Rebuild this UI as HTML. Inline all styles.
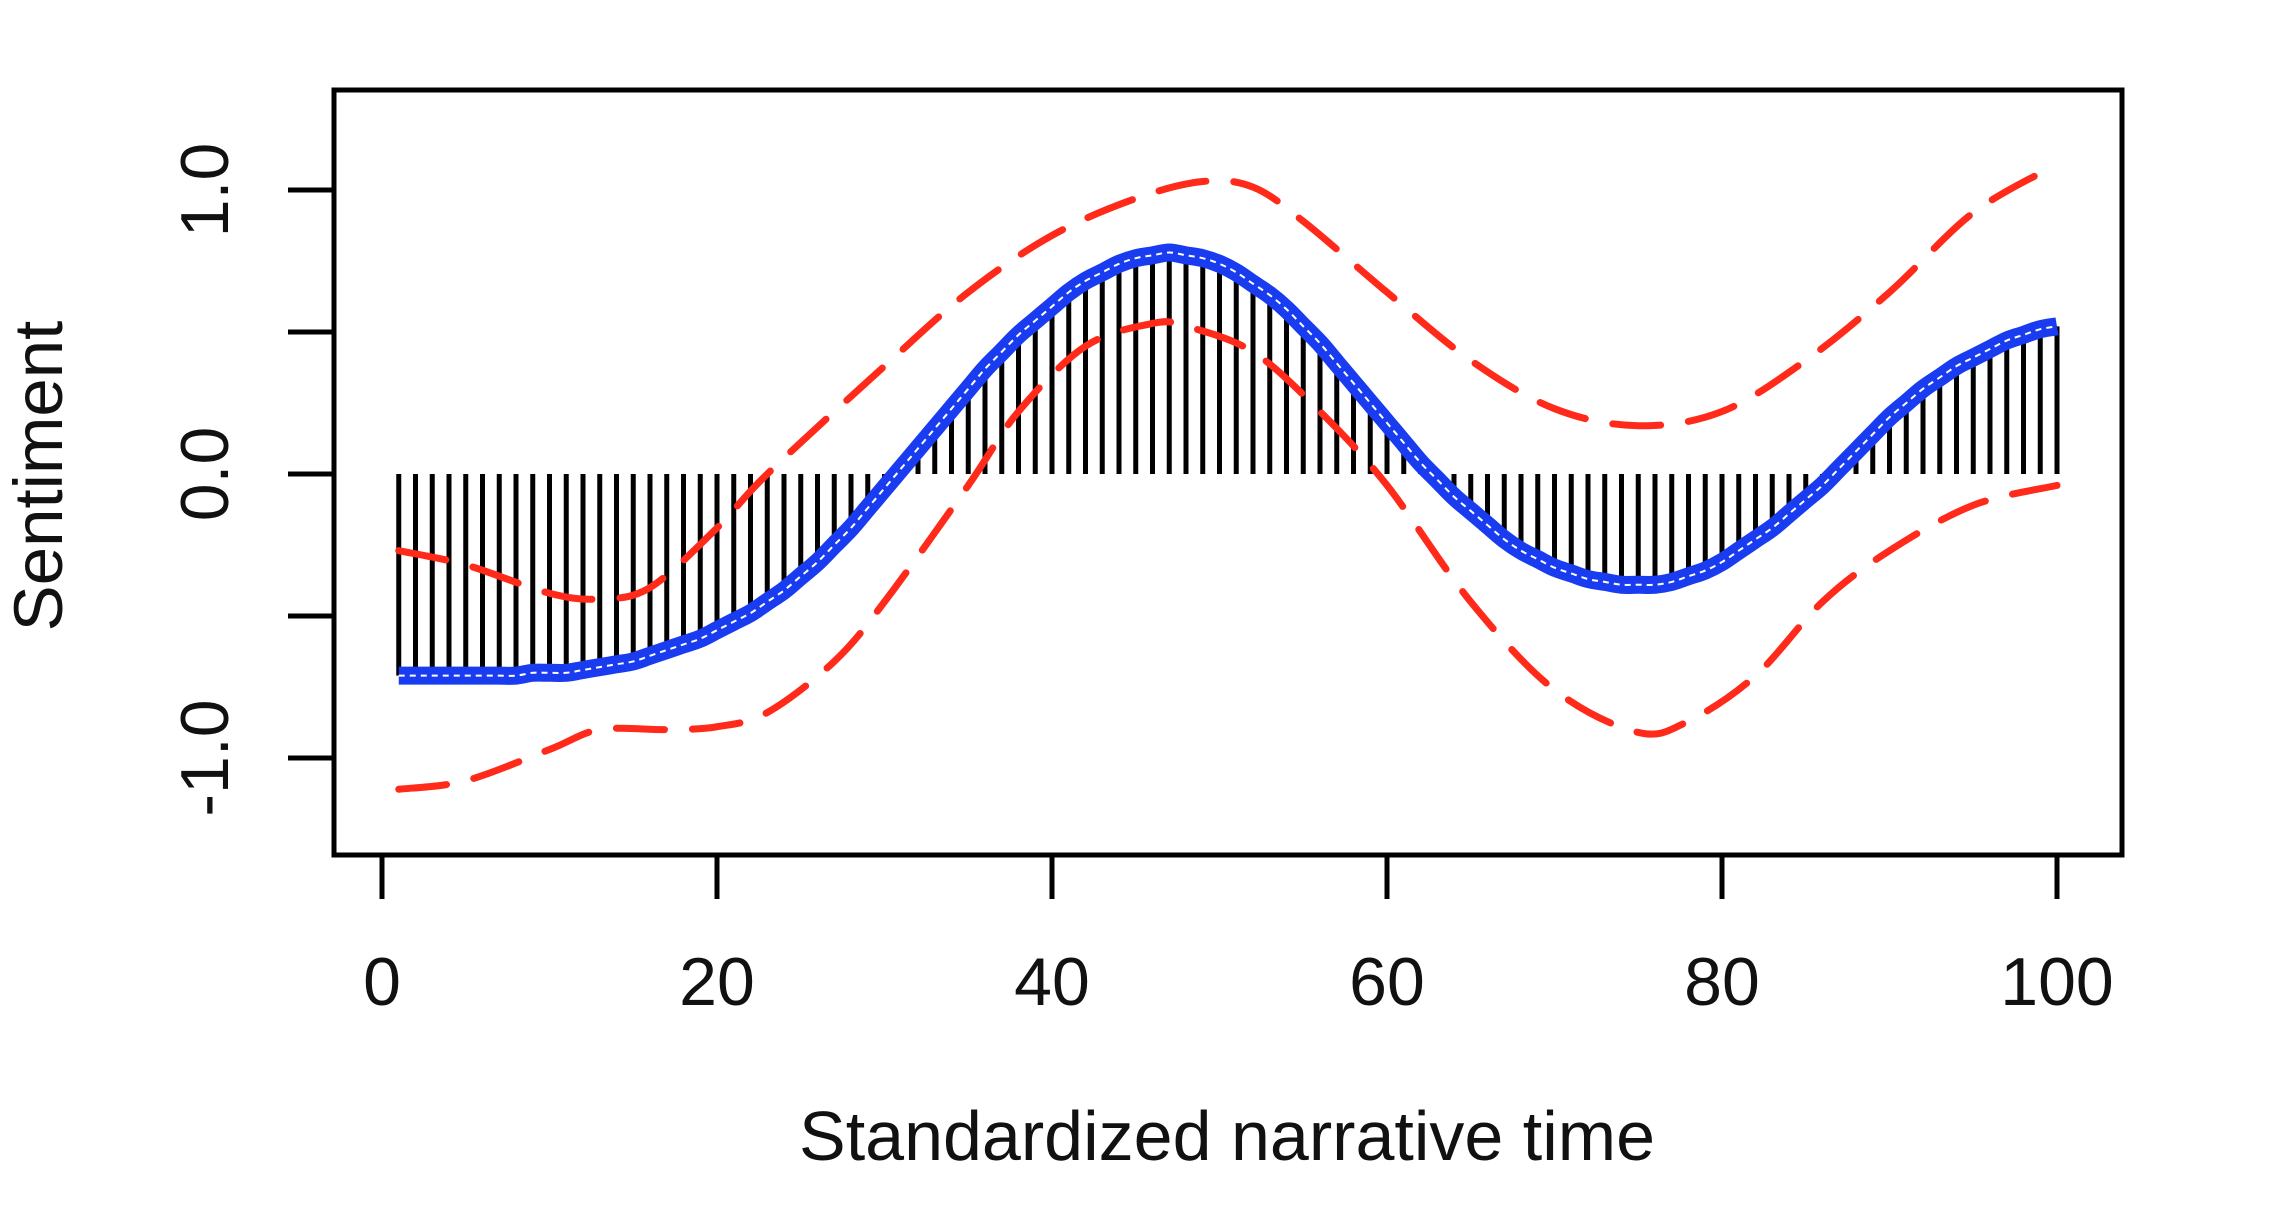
<!DOCTYPE html>
<html><head><meta charset="utf-8"><style>
html,body{margin:0;padding:0;background:#fff;}
svg{display:block;font-family:"Liberation Sans",Arial,sans-serif;}
</style></head><body>
<svg id="chart" width="2292" height="1206" viewBox="0 0 2292 1206" xmlns="http://www.w3.org/2000/svg">
<g id="bars"></g>
<g id="lines"></g>
<rect x="334" y="90" width="1788" height="765" fill="none" stroke="#000" stroke-width="5"/>
<g id="axes"></g>
<text x="1227" y="1160" font-size="70" text-anchor="middle" fill="#111">Standardized narrative time</text>
<text transform="translate(62,476) rotate(-90)" font-size="69" text-anchor="middle" fill="#111">Sentiment</text>
</svg>
<script>
const xTicks=[0,20,40,60,80,100];
const yTicks=[-1,-0.5,0,0.5,1];
const yTickLabels=["-1.0","","0.0","","1.0"];
const meanValues=[-0.71,-0.71,-0.71,-0.71,-0.71,-0.71,-0.71,-0.71,-0.70,-0.70,
-0.70,-0.69,-0.68,-0.67,-0.66,-0.64,-0.62,-0.60,-0.58,-0.55,
-0.52,-0.49,-0.45,-0.41,-0.36,-0.31,-0.25,-0.19,-0.12,-0.05,
0.02,0.09,0.16,0.23,0.30,0.37,0.43,0.49,0.54,0.59,
0.64,0.68,0.71,0.74,0.76,0.77,0.78,0.77,0.76,0.74,
0.71,0.67,0.63,0.58,0.52,0.46,0.39,0.32,0.25,0.18,
0.11,0.04,-0.02,-0.08,-0.13,-0.18,-0.23,-0.27,-0.30,-0.33,
-0.35,-0.37,-0.38,-0.39,-0.39,-0.39,-0.38,-0.36,-0.34,-0.31,
-0.27,-0.23,-0.19,-0.14,-0.09,-0.04,0.02,0.08,0.14,0.20,
0.25,0.30,0.34,0.38,0.41,0.44,0.47,0.49,0.51,0.52];
const upperX=[1,5,10,13,16,20,23,30,35,40,45,49,52,55,60,65,70,75,80,85,90,95,100];
const upperY=[-0.27,-0.32,-0.42,-0.44,-0.40,-0.19,0,0.38,0.64,0.84,0.97,1.03,1.01,0.89,0.64,0.40,0.23,0.17,0.22,0.40,0.64,0.92,1.09];
const lowerX=[1,5,10,13,17,20,23,27,30,35,38,42,46,48,52,56,60,65,70,75,78,82,86,90,95,100];
const lowerY=[-1.11,-1.08,-0.97,-0.90,-0.90,-0.89,-0.84,-0.66,-0.45,-0.04,0.22,0.45,0.53,0.52,0.43,0.22,-0.04,-0.45,-0.76,-0.91,-0.87,-0.71,-0.45,-0.27,-0.11,-0.04];

const NS="http://www.w3.org/2000/svg";
const X0=382,X1=2057;
function sx(x){return X0+x*(X1-X0)/100;}
function sy(v){return 474-v*284;}
function mk(tag,attrs,parent){const e=document.createElementNS(NS,tag);for(const k in attrs)e.setAttribute(k,attrs[k]);parent.appendChild(e);return e;}
function smooth(xs,ys){
  const p=xs.map((x,i)=>[sx(x),sy(ys[i])]);
  let d="M"+p[0][0]+","+p[0][1];
  for(let i=0;i<p.length-1;i++){
    const a=p[Math.max(0,i-1)],b=p[i],c=p[i+1],e=p[Math.min(p.length-1,i+2)];
    d+=" C"+(b[0]+(c[0]-a[0])/6)+","+(b[1]+(c[1]-a[1])/6)+" "+(c[0]-(e[0]-b[0])/6)+","+(c[1]-(e[1]-b[1])/6)+" "+c[0]+","+c[1];
  }
  return d;
}
const bars=document.getElementById('bars');
meanValues.forEach((v,i)=>{
  const b=mk('line',{x1:sx(i+1),x2:sx(i+1),y1:sy(0),y2:sy(v),stroke:'#000','stroke-width':5},bars);
  
  
});
const lines=document.getElementById('lines');
const mx=meanValues.map((v,i)=>i+1);
const meanD=smooth(mx,meanValues);
const m1=mk('path',{d:meanD,fill:'none',stroke:'#1a3cf0','stroke-width':18,'stroke-linejoin':'round'},lines);


const m2=mk('path',{d:meanD,fill:'none',stroke:'#fff','stroke-width':2,'stroke-dasharray':'6 5'},lines);


const up=mk('path',{d:smooth(upperX,upperY),fill:'none',stroke:'#ff2a1a','stroke-width':7,'stroke-dasharray':'48 28','stroke-linecap':'round'},lines);


const lo=mk('path',{d:smooth(lowerX,lowerY),fill:'none',stroke:'#ff2a1a','stroke-width':7,'stroke-dasharray':'48 28','stroke-linecap':'round'},lines);



const axes=document.getElementById('axes');
const xa=mk('line',{x1:sx(0),x2:sx(100),y1:855,y2:855,stroke:'#000','stroke-width':5},axes);


xTicks.forEach(t=>{
  const l=mk('line',{x1:sx(t),x2:sx(t),y1:855,y2:899,stroke:'#000','stroke-width':5},axes);
  
  
  const tx=mk('text',{x:sx(t),y:1005,'font-size':68,'text-anchor':'middle',fill:'#111'},axes);
  tx.textContent=t;
  
  
});
yTicks.forEach((t,i)=>{
  const l=mk('line',{x1:288,x2:334,y1:sy(t),y2:sy(t),stroke:'#000','stroke-width':5},axes);
  
  
  if(yTickLabels[i]){
    const tx=mk('text',{transform:'translate(228,'+sy(t)+') rotate(-90)','font-size':68,'text-anchor':'middle',fill:'#111'},axes);
    tx.textContent=yTickLabels[i];
    
    
  }
});
</script>
</body></html>
